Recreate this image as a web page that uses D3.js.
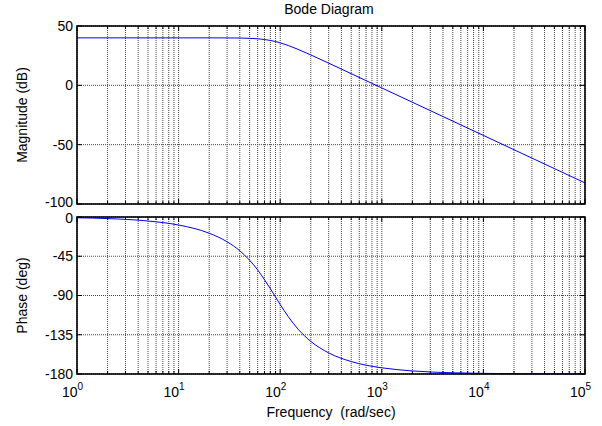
<!DOCTYPE html>
<html>
<head>
<meta charset="utf-8">
<title>Bode Diagram</title>
<script src="https://cdn.jsdelivr.net/npm/d3@7"></script>
<style>
  body { margin: 0; background: #fff; }
  text { font-family: "Liberation Sans", Arial, sans-serif; fill: #000; }
  .grid line { stroke: #444; stroke-dasharray: 1,1; stroke-width: 1; }
</style>
</head>
<body>
<svg id="chart" width="602" height="426"></svg>
<script>
// values
var freq  = [1, 2, 5, 10, 20, 30, 40, 50, 60, 70, 80, 90, 100, 120, 150, 200, 300, 500, 700, 1000, 2000, 5000, 1e4, 2e4, 5e4, 1e5];
var magDb = [40, 40, 40, 40, 40, 39.96, 39.86, 39.62, 39.22, 38.62, 37.83, 36.88, 35.82, 33.58, 30.3, 25.61, 18.68, 9.82, 3.98, -2.22, -14.26, -30.18, -42.22, -54.26, -70.18, -82.22];
var phaseDeg = [-0.9, -1.8, -4.6, -9.2, -18.6, -28.4, -38.7, -49.6, -60.7, -71.8, -82.2, -91.8, -100.4, -114.2, -128.6, -142.6, -155.8, -165.7, -169.9, -172.9, -176.5, -178.6, -179.3, -179.65, -179.86, -179.93];

var magTicks = [50, 0, -50, -100];
var phaseTicks = [0, -45, -90, -135, -180];
var decades = [0, 1, 2, 3, 4, 5];

var svg = d3.select('#chart');
var left = 77, right = 585;

var x = d3.scaleLog().domain([1, 1e5]).range([left, right]);
var yMag = d3.scaleLinear().domain([-100, 50]).range([204, 26]);
var yPh = d3.scaleLinear().domain([-180, 0]).range([374, 217]);

// minor log positions
var minor = [];
decades.slice(0, 5).forEach(function(d) {
  for (var k = 2; k <= 9; k++) minor.push(k * Math.pow(10, d));
});
var allX = minor.concat(decades.map(function(d) { return Math.pow(10, d); }));

function panel(y, ticks, values, label, nudge) {
  var top = y.range()[1], bottom = y.range()[0];
  var g = svg.append('g');

  var grid = g.append('g').attr('class', 'grid');
  grid.selectAll('line.v').data(allX).enter().append('line')
    .attr('x1', function(d) { return x(d); }).attr('x2', function(d) { return x(d); })
    .attr('y1', top).attr('y2', bottom);
  grid.selectAll('line.h').data(ticks).enter().append('line')
    .attr('x1', left).attr('x2', right)
    .attr('y1', function(d) { return y(d); }).attr('y2', function(d) { return y(d); });

  // tick marks, inward on all sides
  var tk = g.append('g').attr('stroke', '#000').attr('stroke-width', 1);
  allX.forEach(function(d) {
    var len = minor.indexOf(d) >= 0 ? 3 : 5;
    tk.append('line').attr('x1', x(d)).attr('x2', x(d)).attr('y1', bottom).attr('y2', bottom - len);
    tk.append('line').attr('x1', x(d)).attr('x2', x(d)).attr('y1', top).attr('y2', top + len);
  });
  ticks.forEach(function(d) {
    tk.append('line').attr('x1', left).attr('x2', left + 5).attr('y1', y(d)).attr('y2', y(d));
    tk.append('line').attr('x1', right).attr('x2', right - 5).attr('y1', y(d)).attr('y2', y(d));
  });

  // curve
  var line = d3.line()
    .x(function(d, i) { return x(freq[i]); })
    .y(function(d) { return y(d); })
    .curve(d3.curveMonotoneX);
  g.append('path').datum(values)
    .attr('d', line)
    .attr('fill', 'none')
    .attr('stroke', '#0000ff')
    .attr('stroke-width', 1);

  // frame
  g.append('rect')
    .attr('x', left).attr('y', top)
    .attr('width', right - left).attr('height', bottom - top)
    .attr('fill', 'none').attr('stroke', '#000').attr('stroke-width', 1.6);

  // y tick labels (end labels pushed apart a little, as in the original)
  g.selectAll('text.yt').data(ticks).enter().append('text')
    .attr('x', left - 4)
    .attr('y', function(d, i) {
      var off = 0;
      if (i === 0) off = nudge[0];
      if (i === ticks.length - 1) off = nudge[1];
      return y(d) + off;
    })
    .attr('dy', '0.35em')
    .attr('text-anchor', 'end')
    .attr('font-size', 14)
    .text(function(d) { return d; });

  g.append('text')
    .attr('transform', 'translate(27,' + ((top + bottom) / 2) + ') rotate(-90)')
    .attr('text-anchor', 'middle')
    .attr('font-size', 14)
    .text(label);
}

panel(yMag, magTicks, magDb, 'Magnitude (dB)', [0, -1.5]);
panel(yPh, phaseTicks, phaseDeg, 'Phase (deg)', [1.5, 0]);

// x tick labels 10^n
decades.forEach(function(d) {
  var t = svg.append('text')
    .attr('x', x(Math.pow(10, d)) - 4.5)
    .attr('y', 397)
    .attr('text-anchor', 'middle')
    .attr('font-size', 14);
  t.append('tspan').text('10');
  t.append('tspan').attr('dy', -7).attr('font-size', 10).text(d);
});

svg.append('text')
  .attr('x', (left + right) / 2).attr('y', 417)
  .attr('text-anchor', 'middle').attr('font-size', 14)
  .style('white-space', 'pre')
  .text('Frequency  (rad/sec)');

svg.append('text')
  .attr('x', 329).attr('y', 14)
  .attr('text-anchor', 'middle').attr('font-size', 14)
  .text('Bode Diagram');
</script>
</body>
</html>
